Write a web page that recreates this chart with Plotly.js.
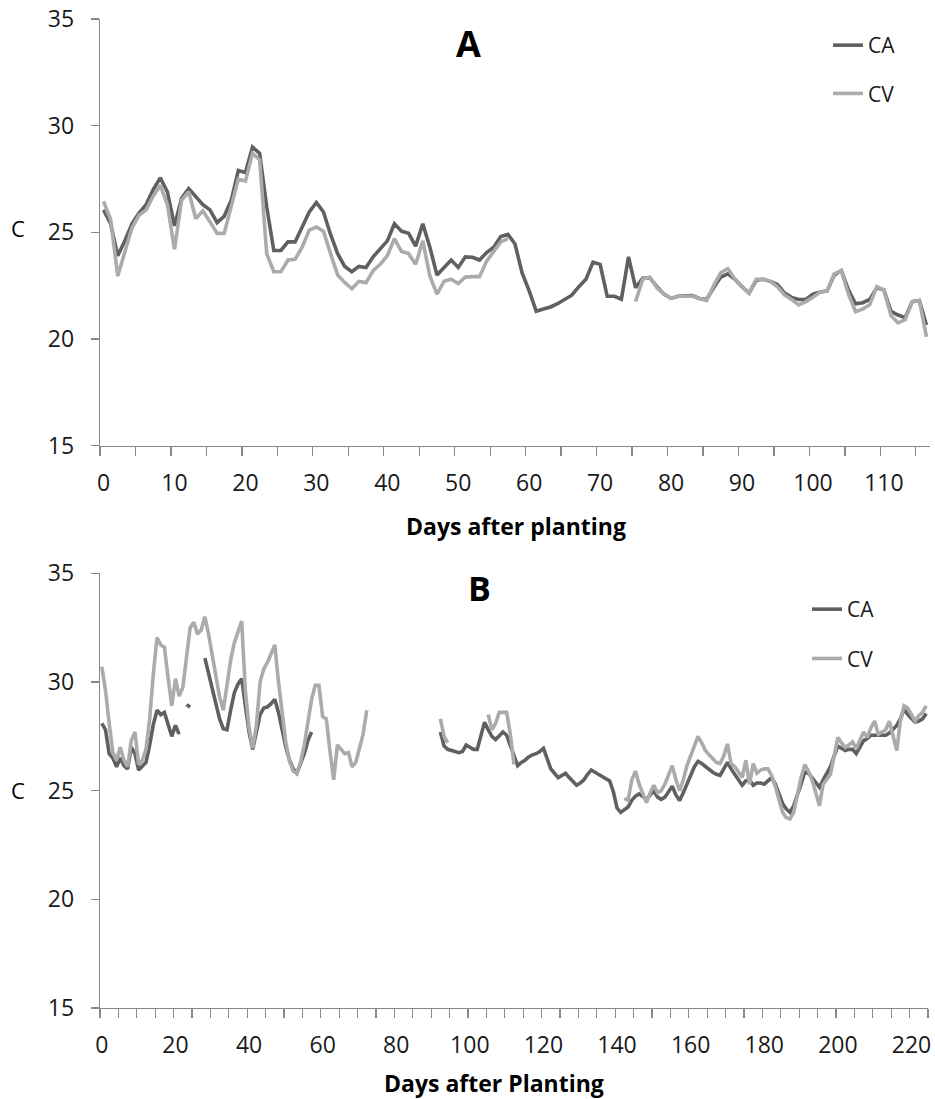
<!DOCTYPE html>
<html>
<head>
<meta charset="utf-8">
<script src="https://cdn.plot.ly/plotly-3.0.1.min.js"></script>
<style>html,body{margin:0;padding:0;background:#fff;}</style>
</head>
<body>
<div id="chart" style="width:935px;height:1099px;"></div>
<script>
// ---- Panel A data (days after planting 0..116) ----
const caA = [
26.05,25.4,23.9,24.6,25.4,25.9,26.3,27.0,27.55,26.9,
25.3,26.6,27.05,26.7,26.3,26.05,25.45,25.75,26.5,27.9,
27.8,29.0,28.7,26.2,24.15,24.15,24.55,24.55,25.25,25.95,
26.4,25.95,24.9,24.0,23.4,23.15,23.4,23.35,23.85,24.2,
24.6,25.4,25.05,24.95,24.35,25.4,24.3,23.0,23.35,23.7,
23.35,23.85,23.83,23.7,24.05,24.3,24.8,24.9,24.45,23.1,
22.25,21.3,21.4,21.5,21.65,21.85,22.05,22.45,22.8,23.6,
23.5,22.0,22.0,21.86,23.85,22.4,22.85,22.87,22.45,22.1,
21.9,22.0,22.0,22.03,21.9,21.85,22.4,22.9,23.05,22.8,
22.45,22.15,22.75,22.8,22.7,22.55,22.15,21.95,21.85,21.85,
22.1,22.2,22.25,23.0,23.2,22.3,21.65,21.7,21.85,22.4,
22.3,21.3,21.12,21.0,21.75,21.8,20.65
];
const cvA = [
26.45,25.6,22.95,24.1,25.2,25.8,26.05,26.7,27.2,26.3,
24.2,26.5,26.9,25.65,26.0,25.5,24.95,24.95,26.2,27.5,
27.4,28.7,28.4,24.0,23.15,23.15,23.7,23.73,24.3,25.1,
25.25,25.05,24.0,23.0,22.65,22.35,22.7,22.64,23.2,23.5,
23.9,24.7,24.1,24.0,23.5,24.6,22.95,22.1,22.7,22.8,
22.6,22.9,22.92,22.92,23.65,24.1,24.55,24.7,null,null,
null,null,null,null,null,null,null,null,null,null,
null,null,null,null,null,21.75,22.8,22.9,22.4,22.1,
21.9,22.0,22.0,22.0,21.9,21.8,22.5,23.1,23.3,22.8,
22.45,22.15,22.8,22.8,22.7,22.45,22.05,21.85,21.6,21.75,
21.95,22.2,22.25,23.05,23.2,22.1,21.28,21.4,21.6,22.45,
22.3,21.1,20.75,20.9,21.75,21.8,20.1
];
// ---- Panel B data (days after planting 0..224) ----
const caB = [
28.1,27.8,26.7,26.5,26.1,26.5,26.15,26.0,27.0,26.7,
25.95,26.1,26.3,27.1,28.05,28.7,28.5,28.6,28.0,27.5,
28.0,27.6,null,28.95,28.85,null,null,null,31.1,30.4,
29.8,29.0,28.3,27.85,27.8,28.7,29.5,29.9,30.15,28.9,
27.7,26.9,27.8,28.5,28.8,28.85,29.0,29.2,28.6,27.7,
27.0,26.4,26.0,25.8,26.2,26.7,27.3,27.7,null,null,
null,null,null,null,null,null,null,null,null,null,
null,null,null,null,null,null,null,null,null,null,
null,null,null,null,null,null,null,null,null,null,
null,null,27.7,27.05,26.9,26.85,26.8,26.75,26.8,27.1,
27.0,26.9,26.9,27.5,28.15,27.8,27.5,27.35,27.5,27.7,
27.55,27.1,26.7,26.15,26.3,26.4,26.55,26.65,26.7,26.8,
26.95,26.5,26.0,25.8,25.6,25.7,25.8,25.6,25.4,25.25,
25.35,25.5,25.75,25.95,25.85,25.75,25.65,25.55,25.45,24.95,
24.2,24.0,24.15,24.25,24.55,24.75,24.85,24.7,24.6,24.8,
25.0,24.7,24.6,24.7,24.95,25.2,24.8,24.55,24.9,25.35,
25.7,26.1,26.35,26.25,26.1,25.95,25.85,25.75,25.7,26.0,
26.3,26.0,25.75,25.5,25.25,25.45,25.5,25.25,25.35,25.35,
25.3,25.45,25.6,25.3,24.8,24.4,24.15,24.0,24.3,24.75,
25.3,25.85,25.8,25.6,25.4,25.15,25.5,25.8,26.1,26.6,
27.05,26.95,26.85,26.9,26.9,26.7,27.0,27.3,27.4,27.55,
27.55,27.55,27.55,27.55,27.65,27.8,28.0,28.3,28.75,28.5,
28.3,28.15,28.2,28.3,28.55
];
const cvB = [
30.7,29.6,28.1,26.75,26.4,27.0,26.4,26.1,27.3,27.7,
26.2,26.4,26.9,28.3,30.4,32.05,31.7,31.6,30.2,28.9,
30.15,29.35,29.75,31.2,32.5,32.75,32.2,32.4,33.0,32.2,
31.2,30.1,29.3,28.7,29.8,31.0,31.8,32.3,32.8,29.6,
27.9,26.95,28.0,30.0,30.6,30.9,31.3,31.7,30.0,28.5,
27.2,26.35,25.9,25.8,26.3,27.1,28.1,29.2,29.85,29.85,
28.4,28.3,26.8,25.5,27.1,26.9,26.7,26.75,26.1,26.3,
27.0,27.6,28.7,null,null,null,null,null,null,null,
null,null,null,null,null,null,null,null,null,null,
null,null,28.3,27.5,27.2,null,null,null,null,null,
null,null,null,null,null,28.5,27.8,28.1,28.6,28.6,
28.6,27.6,26.2,null,null,null,null,null,null,null,
null,null,null,null,null,null,null,null,null,null,
null,null,null,null,null,null,null,null,null,null,
null,null,24.65,24.55,25.5,25.9,25.3,24.9,24.45,24.9,
25.25,24.9,25.0,25.3,25.7,26.15,25.5,25.0,25.5,26.15,
26.6,27.1,27.5,27.2,26.85,26.65,26.45,26.3,26.25,26.6,
27.15,26.25,26.1,25.85,25.6,26.4,25.3,26.25,25.8,25.95,
26.0,26.0,25.7,25.2,24.6,24.0,23.75,23.7,24.0,24.8,
25.6,26.2,25.9,25.5,24.9,24.3,25.3,25.5,25.75,26.6,
27.45,27.2,27.0,27.1,27.25,26.95,27.3,27.7,27.45,27.9,
28.2,27.6,27.7,27.8,28.2,27.5,26.85,28.2,28.9,28.8,
28.5,28.2,28.45,28.6,28.9
];
const seriesNames = ["CA", "CV"];
const tickLabelsA = ["0","10","20","30","40","50","60","70","80","90","100","110"];
const tickLabelsB = ["0","20","40","60","80","100","120","140","160","180","200","220"];
const yTicks = [15, 20, 25, 30, 35];

const daysA = caA.map((_, i) => i);
const daysB = caB.map((_, i) => i);

const darkCol = '#606060', lightCol = '#ababab';
const axCol = '#898989';
const FONT = 'Open Sans, sans-serif';

const traces = [
  {x: daysA, y: caA, name: seriesNames[0], type:'scatter', mode:'lines', xaxis:'x', yaxis:'y',
   line:{color:darkCol, width:3.6}, legend:'legend', legendgroup:'a1', hoverinfo:'skip'},
  {x: daysA, y: cvA, name: seriesNames[1], type:'scatter', mode:'lines', xaxis:'x', yaxis:'y',
   line:{color:lightCol, width:3.6}, legend:'legend', legendgroup:'a2', hoverinfo:'skip'},
  {x: daysB, y: caB, name: seriesNames[0], type:'scatter', mode:'lines', xaxis:'x2', yaxis:'y2',
   line:{color:darkCol, width:3.6}, legend:'legend2', legendgroup:'b1', hoverinfo:'skip'},
  {x: daysB, y: cvB, name: seriesNames[1], type:'scatter', mode:'lines', xaxis:'x2', yaxis:'y2',
   line:{color:lightCol, width:3.6}, legend:'legend2', legendgroup:'b2', hoverinfo:'skip'}
];

function xAxis(range, labels, domain, anchor) {
  return {
    domain: domain, anchor: anchor, range: range,
    tickmode:'array', tickvals: labels.map(Number), ticktext: labels,
    ticks:'', showline:true, linecolor:axCol, linewidth:1.3,
    showgrid:false, zeroline:false, fixedrange:true,
    tickfont:{family:FONT, size:23, color:'#1a1a1a'}, ticklabelstandoff: 16,
    minor:{tickmode:'linear', tick0:-0.5, dtick:5, ticks:'outside', ticklen:9,
           tickcolor:axCol, tickwidth:1.3, showgrid:false}
  };
}
function yAxis(domain, anchor) {
  return {
    domain: domain, anchor: anchor, range:[15,35],
    tickmode:'array', tickvals: yTicks, ticktext: yTicks.map(String),
    ticks:'outside', ticklen:8, tickcolor:axCol, tickwidth:1.3,
    showline:true, linecolor:axCol, linewidth:1.3,
    showgrid:false, zeroline:false, fixedrange:true,
    tickfont:{family:FONT, size:23, color:'#1a1a1a'}, ticklabelstandoff: 12
  };
}

const W = 935, H = 1099, L = 100, T = 19, B = 91, R = 5;
const pw = W - L - R, ph = H - T - B;
const px = v => (v - L) / pw;
const py = v => (H - B - v) / ph;

const legendBase = {
  xanchor:'left', yanchor:'top', bgcolor:'rgba(0,0,0,0)', borderwidth:0,
  font:{family:FONT, size:21, color:'#1a1a1a'}, traceorder:'grouped', itemwidth:30
};

const layout = {
  width: W, height: H,
  margin:{l:L, r:R, t:T, b:B, pad:0},
  paper_bgcolor:'#ffffff', plot_bgcolor:'#ffffff',
  font:{family:FONT, color:'#1a1a1a'},
  showlegend:true,
  xaxis: xAxis([-0.5, 116.5], tickLabelsA, [0, 1], 'y'),
  yaxis: yAxis([py(445.6), 1], 'x'),
  xaxis2: xAxis([-0.5, 224.5], tickLabelsB, [0, 0.9976], 'y2'),
  yaxis2: yAxis([0, py(573.3)], 'x2'),
  legend: Object.assign({}, legendBase, {x: px(828), y: py(25), tracegroupgap: 18}),
  legend2: Object.assign({}, legendBase, {x: px(807), y: py(589), tracegroupgap: 19}),
  annotations: [
    {text:'<b>A</b>', xref:'paper', yref:'paper', x:px(468), y:py(44), showarrow:false,
     xanchor:'center', yanchor:'middle', font:{family:FONT, size:36, color:'#000'}},
    {text:'<b>B</b>', xref:'paper', yref:'paper', x:px(479), y:py(588), showarrow:false,
     xanchor:'center', yanchor:'middle', font:{family:FONT, size:34, color:'#000'}},
    {text:'<b>Days after planting</b>', xref:'paper', yref:'paper', x:px(516), y:py(526), showarrow:false,
     xanchor:'center', yanchor:'middle', font:{family:FONT, size:23, color:'#000'}},
    {text:'<b>Days after Planting</b>', xref:'paper', yref:'paper', x:px(494), y:py(1083), showarrow:false,
     xanchor:'center', yanchor:'middle', font:{family:FONT, size:23, color:'#000'}},
    {text:'C', xref:'paper', yref:'paper', x:px(18), y:py(228), showarrow:false,
     xanchor:'center', yanchor:'middle', font:{family:FONT, size:22, color:'#000'}},
    {text:'C', xref:'paper', yref:'paper', x:px(18), y:py(790), showarrow:false,
     xanchor:'center', yanchor:'middle', font:{family:FONT, size:22, color:'#000'}}
  ]
};

Plotly.newPlot('chart', traces, layout, {displayModeBar:false, staticPlot:true});
</script>
</body>
</html>
